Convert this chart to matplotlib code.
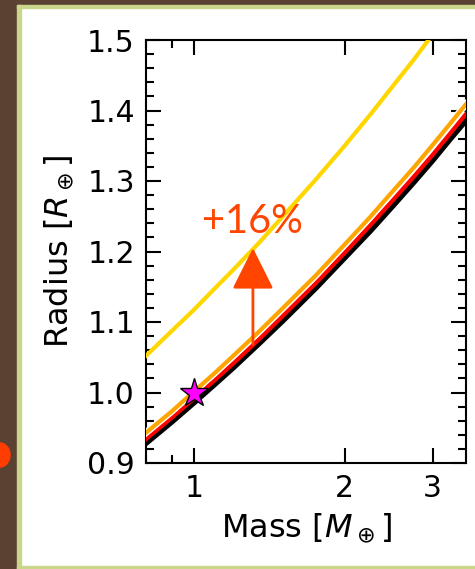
import matplotlib.pyplot as plt
from matplotlib.patches import Rectangle, Circle
from matplotlib.ticker import FixedLocator, ScalarFormatter, NullFormatter

# mass grid (Earth masses) and radii (Earth radii)
mass = [0.8, 0.9, 1.0, 1.1, 1.2, 1.35, 1.5, 1.75, 2.0, 2.25, 2.5, 2.75, 3.0, 3.25, 3.5]
r_black = [0.928, 0.958, 0.986, 1.012, 1.036, 1.070, 1.101, 1.148, 1.191,
           1.229, 1.265, 1.298, 1.329, 1.359, 1.386]
r_red = [0.934, 0.964, 0.992, 1.018, 1.042, 1.076, 1.108, 1.155, 1.198,
         1.237, 1.273, 1.306, 1.337, 1.367, 1.395]
r_orange = [0.943, 0.973, 1.002, 1.028, 1.053, 1.087, 1.119, 1.166, 1.210,
            1.249, 1.286, 1.319, 1.351, 1.381, 1.409]
mass_yellow = [0.8, 0.9, 1.0, 1.1, 1.2, 1.35, 1.5, 1.75, 2.0, 2.25, 2.5, 2.75, 3.0]
r_yellow = [1.052, 1.087, 1.118, 1.148, 1.175, 1.213, 1.249, 1.302, 1.350,
            1.394, 1.435, 1.472, 1.508]

earth = (1.0, 1.0)
arrow_m = 1.31
arrow_r = (1.068, 1.205)
label_pos = (1.305, 1.242)
label = '+16%'

x_ticks = [1, 2, 3]

plt.rcParams['font.size'] = 21.5
fig = plt.figure(figsize=(4.75, 5.69), dpi=100)

# slide background pieces
fig.patches.append(Rectangle((0, 0), 17 / 475, 1, transform=fig.transFigure,
                             color='#5b4131', zorder=-5))
fig.patches.append(Rectangle((0, 1 - 5 / 569), 1, 5 / 569, transform=fig.transFigure,
                             color='#5b4131', zorder=-5))
fig.patches.append(Rectangle((17 / 475, 0), 4 / 475, 1 - 5 / 569, transform=fig.transFigure,
                             color='#c9d68c', zorder=-4))
fig.patches.append(Rectangle((17 / 475, 1 - 8 / 569), 1, 3 / 569, transform=fig.transFigure,
                             color='#c9d68c', zorder=-4))
fig.patches.append(Rectangle((17 / 475, 0), 1, 3 / 569, transform=fig.transFigure,
                             color='#c9d68c', zorder=-4))
fig.patches.append(Circle((0, 1 - 455 / 569), 10 / 475, transform=fig.transFigure,
                          color='#ff3d00', zorder=-3))

ax = fig.add_axes([146 / 475, 1 - 463 / 569, 320 / 475, 423 / 569])

ax.plot(mass, r_black, color='black', lw=4, zorder=2)
ax.plot(mass, r_red, color='#ff0000', lw=3, zorder=3)
ax.plot(mass, r_orange, color='white', lw=5, zorder=4)
ax.plot(mass, r_orange, color='#ffa500', lw=3, zorder=5)
ax.plot(mass_yellow, r_yellow, color='#ffd700', lw=3, zorder=5)

ax.plot(*earth, marker='*', ms=21, mfc='#ff00ff', mec='black', mew=1, zorder=6)

ax.annotate('', xy=(arrow_m, arrow_r[1]), xytext=(arrow_m, arrow_r[0]),
            arrowprops=dict(arrowstyle='-|>', color='#ff4500', lw=2,
                            mutation_scale=65, shrinkA=0, shrinkB=0), zorder=7)
ax.text(*label_pos, label, color='#ff4500', fontsize=28.5, ha='center', va='center',
        family=['Lato', 'Liberation Sans'], fontweight='normal', zorder=7)

ax.set_xscale('log')
ax.set_xlim(0.8, 3.5)
ax.set_ylim(0.9, 1.5)
ax.xaxis.set_major_locator(FixedLocator(x_ticks))
ax.xaxis.set_major_formatter(ScalarFormatter())
ax.xaxis.set_minor_formatter(NullFormatter())
ax.set_yticks([0.9, 1.0, 1.1, 1.2, 1.3, 1.4, 1.5])
ax.set_yticks([0.9 + 0.02 * i for i in range(31)], minor=True)

ax.tick_params(which='both', direction='in', top=True, right=True, width=1.5)
ax.tick_params(which='major', length=11, pad=8)
ax.tick_params(which='minor', length=6)
for s in ax.spines.values():
    s.set_linewidth(1.5)

ax.set_xlabel(r'Mass [$M_\oplus$]', fontsize=23, labelpad=6)
ax.set_ylabel(r'Radius [$R_\oplus$]', fontsize=23, labelpad=8)

fig.savefig('out.png', dpi=100)
